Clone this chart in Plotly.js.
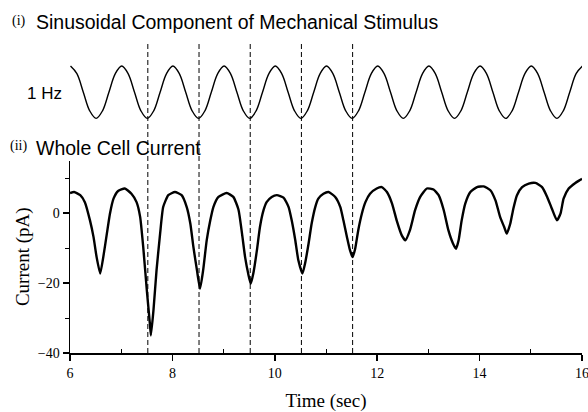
<!DOCTYPE html>
<html>
<head>
<meta charset="utf-8">
<script src="https://cdn.plot.ly/plotly-3.0.1.min.js"></script>
<style>html,body{margin:0;padding:0;background:#fff;}#chart{width:588px;height:412px;}</style>
</head>
<body>
<div id="chart"></div>
<script>
// Sinusoidal stimulus (relative displacement), read at eighth periods
const stimTime = [
  6.01,6.135,6.26,6.385,6.51,6.635,6.76,6.885,
  7.01,7.135,7.26,7.385,7.51,7.635,7.76,7.885,
  8.01,8.135,8.26,8.385,8.51,8.635,8.76,8.885,
  9.01,9.135,9.26,9.385,9.51,9.635,9.76,9.885,
  10.01,10.135,10.26,10.385,10.51,10.635,10.76,10.885,
  11.01,11.135,11.26,11.385,11.51,11.635,11.76,11.885,
  12.01,12.135,12.26,12.385,12.51,12.635,12.76,12.885,
  13.01,13.135,13.26,13.385,13.51,13.635,13.76,13.885,
  14.01,14.135,14.26,14.385,14.51,14.635,14.76,14.885,
  15.01,15.135,15.26,15.385,15.51,15.635,15.76,15.885,
  16.01];
const stimValue = [
  1,0.71,0,-0.71,-1,-0.71,0,0.71,
  1,0.71,0,-0.71,-1,-0.71,0,0.71,
  1,0.71,0,-0.71,-1,-0.71,0,0.71,
  1,0.71,0,-0.71,-1,-0.71,0,0.71,
  1,0.71,0,-0.71,-1,-0.71,0,0.71,
  1,0.71,0,-0.71,-1,-0.71,0,0.71,
  1,0.71,0,-0.71,-1,-0.71,0,0.71,
  1,0.71,0,-0.71,-1,-0.71,0,0.71,
  1,0.71,0,-0.71,-1,-0.71,0,0.71,
  1,0.71,0,-0.71,-1,-0.71,0,0.71,
  1];

// Whole cell current (pA)
const currentTime = [6.00,6.08,6.20,6.29,6.39,6.46,6.52,6.59,6.65,6.72,6.78,6.85,6.94,7.07,7.20,7.30,7.37,7.43,7.50,7.56,7.58,7.63,7.69,7.76,7.82,7.92,8.05,8.18,8.28,8.35,8.41,8.48,8.54,8.60,8.67,8.74,8.80,8.90,9.06,9.19,9.29,9.36,9.42,9.48,9.53,9.58,9.65,9.71,9.78,9.84,9.94,10.04,10.17,10.27,10.33,10.40,10.46,10.54,10.59,10.66,10.72,10.79,10.85,10.95,11.05,11.18,11.28,11.34,11.41,11.47,11.52,11.57,11.63,11.70,11.77,11.86,11.99,12.09,12.19,12.29,12.38,12.48,12.55,12.64,12.74,12.84,12.97,13.10,13.20,13.30,13.39,13.48,13.54,13.59,13.65,13.72,13.82,13.95,14.08,14.21,14.31,14.40,14.48,14.53,14.60,14.66,14.73,14.83,14.96,15.09,15.22,15.32,15.41,15.51,15.58,15.64,15.74,15.87,15.97,16.00];
const currentValue = [5.7,6.0,5.1,3.1,-2.1,-6.9,-12.6,-17.3,-12.6,-5.9,-0.2,4.1,6.3,7.0,5.5,3.1,-1.1,-9.7,-22.0,-31.6,-35.0,-27.8,-16.4,-5.9,1.7,5.1,6.0,5.1,1.7,-3.0,-9.7,-16.4,-21.6,-16.4,-7.8,-2.1,1.7,4.6,5.7,4.6,1.0,-5.9,-12.6,-17.3,-20.2,-17.3,-10.7,-4.0,0.8,3.1,4.6,5.1,4.4,1.7,-2.1,-7.8,-13.5,-17.3,-14.5,-8.7,-3.0,1.7,4.1,5.5,6.0,4.6,1.7,-2.1,-6.9,-10.7,-12.6,-10.2,-4.9,-0.2,3.1,5.5,7.0,7.4,6.0,2.7,-2.1,-6.4,-7.8,-4.9,0.8,4.6,7.0,6.7,5.1,0.8,-4.9,-8.7,-10.2,-7.8,-2.1,2.7,6.0,7.4,7.6,6.5,3.6,-1.1,-4.0,-5.9,-3.0,1.3,5.1,7.4,8.4,8.6,7.4,4.6,1.3,-2.1,-0.2,4.1,7.0,8.6,9.5,9.8];

// Stimulus minima marked by dashed lines (sec)
const markerTimes = [7.52, 8.52, 9.52, 10.52, 11.52];

// Text
const panelTitle1 = 'Sinusoidal Component of Mechanical Stimulus';
const panelTitle2 = 'Whole Cell Current';
const freqLabel = '1 Hz';
const xTitle = 'Time (sec)';
const yTitle = 'Current (pA)';

const serif = 'Liberation Serif, Times New Roman, serif';
const sans = 'Liberation Sans, Arial, sans-serif';

const traces = [
  {x: stimTime, y: stimValue, xaxis: 'x', yaxis: 'y2', type: 'scatter', mode: 'lines',
   line: {color: '#000', width: 1.4, shape: 'spline', smoothing: 1}, hoverinfo: 'skip'},
  {x: currentTime, y: currentValue, xaxis: 'x', yaxis: 'y', type: 'scatter', mode: 'lines',
   line: {color: '#000', width: 2.4, shape: 'spline', smoothing: 0.5}, hoverinfo: 'skip'}
];

const shapes = markerTimes.map(t => ({
  type: 'line', xref: 'x', yref: 'paper', x0: t, x1: t, y0: 0, y1: 0.99,
  line: {color: '#000', width: 1, dash: '5px,3px'}
}));

const annotations = [
  {text: '(i)', xref: 'paper', yref: 'paper', x: -0.117, y: 1.06, xanchor: 'left', yanchor: 'middle', showarrow: false, font: {family: serif, size: 14, color: '#000'}},
  {text: panelTitle1, xref: 'paper', yref: 'paper', x: -0.07, y: 1.057, xanchor: 'left', yanchor: 'middle', showarrow: false, font: {family: sans, size: 19.5, color: '#000'}},
  {text: freqLabel, xref: 'paper', yref: 'paper', x: -0.012, y: 0.83, xanchor: 'right', yanchor: 'middle', showarrow: false, font: {family: sans, size: 17, color: '#000'}},
  {text: '(ii)', xref: 'paper', yref: 'paper', x: -0.122, y: 0.66, xanchor: 'left', yanchor: 'middle', showarrow: false, font: {family: serif, size: 14, color: '#000'}},
  {text: panelTitle2, xref: 'paper', yref: 'paper', x: -0.07, y: 0.655, xanchor: 'left', yanchor: 'middle', showarrow: false, font: {family: sans, size: 19.5, color: '#000'}}
];

const layout = {
  width: 588, height: 412,
  margin: {l: 70, r: 6, t: 40, b: 59},
  paper_bgcolor: '#fff', plot_bgcolor: '#fff',
  showlegend: false,
  xaxis: {
    range: [6, 16], tickmode: 'array', tickvals: [6, 8, 10, 12, 14, 16], ticktext: ['6', '8', '10', '12', '14', '16'],
    ticks: 'outside', ticklen: 6, tickwidth: 1.5, tickcolor: '#000', ticklabeloverflow: 'allow',
    showline: true, linewidth: 2, linecolor: '#000', showgrid: false, zeroline: false,
    minor: {tickmode: 'array', tickvals: [7, 9, 11, 13, 15], ticks: 'inside', ticklen: 4, tickwidth: 1, tickcolor: '#000', showgrid: false},
    tickfont: {family: serif, size: 14, color: '#000'},
    title: {text: xTitle, font: {family: serif, size: 19, color: '#000'}, standoff: 17},
    anchor: 'y'
  },
  yaxis: {
    domain: [0, 0.615], range: [-40, 15], tick0: 0, dtick: 20, ticks: 'outside', ticklen: 6, tickwidth: 1.5, tickcolor: '#000',
    showline: true, linewidth: 1.5, linecolor: '#000', showgrid: false, zeroline: false,
    minor: {dtick: 10, ticks: 'outside', ticklen: 4, tickwidth: 1, tickcolor: '#000', showgrid: false},
    tickfont: {family: serif, size: 14, color: '#000'},
    title: {text: yTitle, font: {family: serif, size: 19, color: '#000'}, standoff: 3}
  },
  yaxis2: {domain: [0.62, 1], range: [-2.549, 1.994], visible: false, showgrid: false, zeroline: false},
  shapes: shapes,
  annotations: annotations
};

Plotly.newPlot('chart', traces, layout, {staticPlot: true, displayModeBar: false});
</script>
</body>
</html>
